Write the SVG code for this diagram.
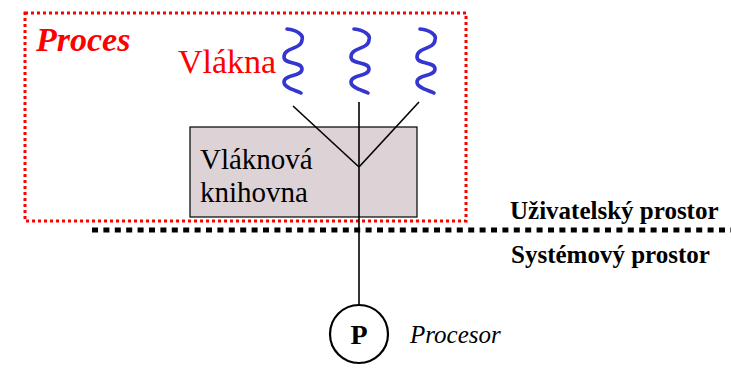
<svg xmlns="http://www.w3.org/2000/svg" width="731" height="371" viewBox="0 0 731 371">
<defs>
<path id="sq" d="M287,29 C297,30 304,35 302,40 C301,50 284,47 284,57 C284,65 302,61 302,69 C302,77 284,74 284,82 C284,88 295,90 301,93" fill="none" stroke="#3535d0" stroke-width="3.6" stroke-linecap="round"/>
</defs>
<rect width="731" height="371" fill="#fff"/>
<g id="proces">
<rect x="25" y="13" width="441" height="208" fill="none" stroke="#ff0000" stroke-width="3" stroke-dasharray="3 3"/>
<text x="36" y="51" font-family="Liberation Serif, Times New Roman, serif" font-size="34" font-weight="bold" font-style="italic" fill="#ff0000">Proces</text>
</g>
<g id="vlakna">
<text x="178" y="73" font-family="Liberation Serif, Times New Roman, serif" font-size="34" fill="#ff0000">Vlákna</text>
<use href="#sq"/>
<use href="#sq" transform="translate(67,0)"/>
<use href="#sq" transform="translate(133,0)"/>
</g>
<g id="knihovna">
<rect x="190" y="127" width="227" height="90" fill="#ddd3d6" stroke="#000" stroke-width="1.2"/>
<text x="200" y="169" font-family="Liberation Serif, Times New Roman, serif" font-size="29">Vláknová</text>
<text x="200" y="202" font-family="Liberation Serif, Times New Roman, serif" font-size="29">knihovna</text>
</g>
<g id="hranice">
<line x1="92" y1="230" x2="731" y2="230" stroke="#000" stroke-width="5" stroke-dasharray="6 5.4"/>
<text x="510" y="219" font-family="Liberation Serif, Times New Roman, serif" font-size="25" font-weight="bold">Uživatelský prostor</text>
<text x="511" y="263" font-family="Liberation Serif, Times New Roman, serif" font-size="25" font-weight="bold">Systémový prostor</text>
</g>
<g id="connectors" fill="none" stroke="#000" stroke-width="1.6">
<line x1="293" y1="106" x2="359" y2="167"/>
<line x1="419" y1="102" x2="359" y2="167"/>
<line x1="359" y1="102" x2="359" y2="305"/>
</g>
<g id="procesor">
<circle cx="359" cy="334" r="29" fill="#fff" stroke="#000" stroke-width="2.2"/>
<text x="359" y="344" font-family="Liberation Serif, Times New Roman, serif" font-size="28" font-weight="bold" text-anchor="middle">P</text>
<text x="410" y="343" font-family="Liberation Serif, Times New Roman, serif" font-size="25" font-style="italic">Procesor</text>
</g>
</svg>
